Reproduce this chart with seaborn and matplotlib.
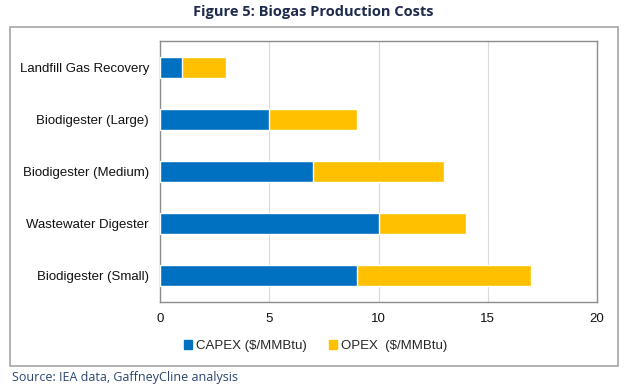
import pandas as pd
import matplotlib.pyplot as plt
import seaborn as sns
from matplotlib.patches import Patch, Rectangle

# dados
categorias = [
    "Landfill Gas Recovery",
    "Biodigester (Large)",
    "Biodigester (Medium)",
    "Wastewater Digester",
    "Biodigester (Small)",
]
capex = [1, 5, 7, 10, 9]
opex = [2, 4, 6, 4, 8]
x_ticks = [0, 5, 10, 15, 20]

azul = "#0070C0"
amarelo = "#FFC000"

df = pd.DataFrame({"categoria": categorias, "capex": capex, "opex": opex})
df["total"] = df["capex"] + df["opex"]

sns.set_style("white")
plt.rcParams["font.family"] = ["Liberation Sans", "DejaVu Sans"]

fig = plt.figure(figsize=(6.27, 3.84), dpi=100)
ax = fig.add_axes([160 / 627, 1 - 302 / 384, 437 / 627, 261 / 384])

# barra total (amarela) e capex por cima (azul) para empilhar
sns.barplot(data=df, y="categoria", x="total", color=amarelo, width=0.4,
            orient="h", ax=ax, saturation=1, zorder=3)
sns.barplot(data=df, y="categoria", x="capex", color=azul, width=0.4,
            orient="h", ax=ax, saturation=1, zorder=4)

ax.set_xlim(0, 20)
ax.set_xticks(x_ticks)
ax.set_xlabel("")
ax.set_ylabel("")
ax.tick_params(axis="both", length=0, labelsize=9.5, colors="#111111")
ax.tick_params(axis="y", pad=8)
ax.tick_params(axis="x", pad=8)
ax.grid(axis="x", color="#d9d9d9", linewidth=0.8, zorder=0)
for s in ax.spines.values():
    s.set_visible(True)
    s.set_color("#8c8c8c")
    s.set_linewidth(1.0)

# caixa externa do grafico
fig.patches.append(Rectangle((10 / 627, 1 - 366 / 384), 608 / 627, 339 / 384,
                             transform=fig.transFigure, fill=False,
                             edgecolor="#a6a6a6", linewidth=1.2))

handles = [Patch(color=azul, label="CAPEX ($/MMBtu)"),
           Patch(color=amarelo, label="OPEX  ($/MMBtu)")]
fig.legend(handles=handles, loc="center", bbox_to_anchor=(316 / 627, 1 - 346 / 384),
           ncol=2, frameon=False, fontsize=9.5, handlelength=0.6, handleheight=0.6,
           handletextpad=0.3, columnspacing=1.7)

fig.text(0.5, 1 - 12 / 384, "Figure 5: Biogas Production Costs", ha="center",
         va="center", fontsize=10.5, fontweight="bold", color="#1f2b4d",
         family="Open Sans")
fig.text(12 / 627, 1 - 378 / 384, "Source: IEA data, GaffneyCline analysis",
         ha="left", va="center", fontsize=9, color="#2b4570", family="Open Sans")

plt.savefig("out.png", dpi=100, facecolor="white")
